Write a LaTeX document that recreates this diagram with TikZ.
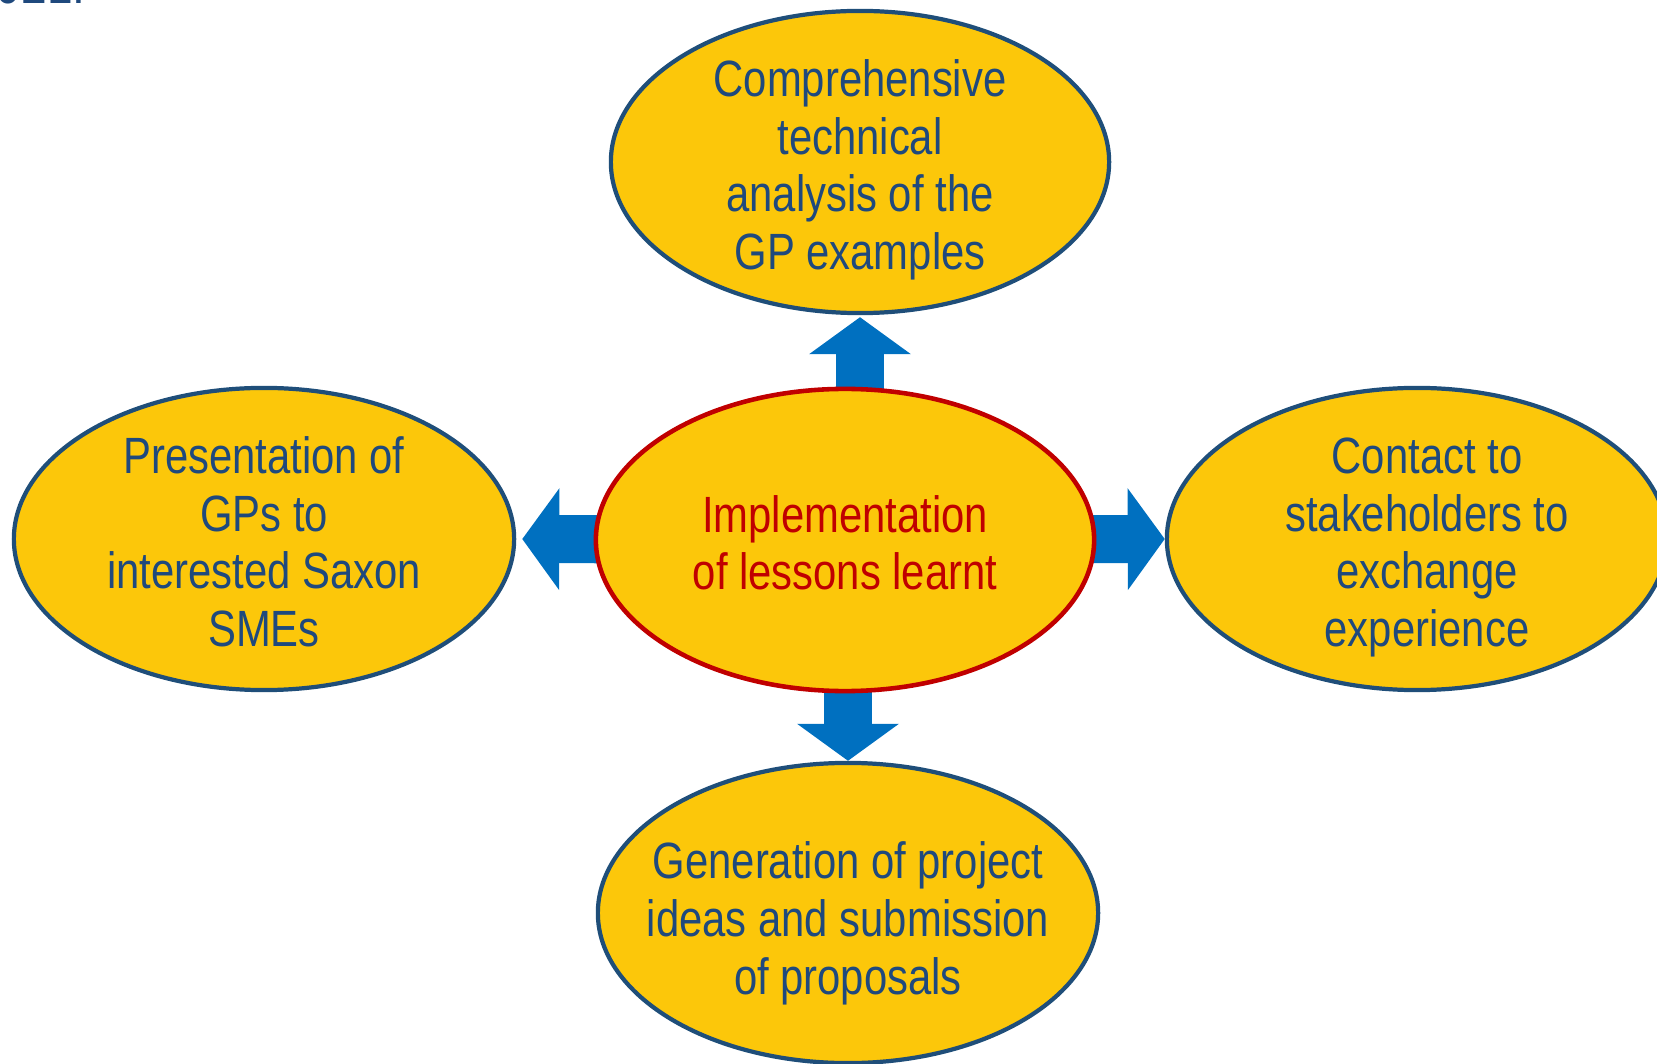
\documentclass[tikz,border=0pt]{standalone}
\usepackage{fontspec}
\setmainfont[FakeStretch=0.82]{Liberation Sans}
\usetikzlibrary{shapes.geometric,arrows.meta,backgrounds}
\definecolor{gold}{RGB}{252,199,10}
\definecolor{navy}{RGB}{31,78,121}
\definecolor{txtblue}{RGB}{31,73,125}
\definecolor{flowblue}{RGB}{0,112,192}
\definecolor{darkred}{RGB}{192,0,0}
\newcommand\toprow[1][15pt]{\rule{0pt}{#1}}
\newcommand\nudge{\hspace*{0.2cm}}
\begin{document}
\begin{tikzpicture}[x=0.01cm,y=-0.01cm,line join=round,
 bubble/.style={ellipse,draw=navy,line width=1.2pt,fill=gold,text=txtblue,align=center,
   inner sep=-8pt,minimum width=4.98cm,minimum height=3.02cm,font=\fontsize{14.5}{16.4}\selectfont},
 core/.style={bubble,draw=darkred,line width=1.3pt,text=darkred},
 flow/.style={draw=flowblue,line width=0.48cm,-{Triangle[length=0.37cm,width=1cm]}}]
 \useasboundingbox (0,0) rectangle (1657,1064);
 \clip (0,0) rectangle (1657,1064);
 \node[anchor=base east,text=txtblue,font=\fontsize{16}{18}\selectfont] (yearfrag) at (98,4) {2021.};
 \node[core] (hub) at (845,540) {\toprow[12pt]Implementation\\of lessons learnt};
 \node[bubble] (analysis) at (860,162) {\toprow Comprehensive\\technical\\analysis of the\\GP examples};
 \node[bubble,minimum width=5cm] (presentation) at (264,539) {\toprow[12pt]Presentation of\\GPs to\\interested Saxon\\SMEs};
 \node[bubble,minimum width=5cm] (contact) at (1417,539) {\toprow\nudge Contact to\\\nudge stakeholders to\\\nudge exchange\\\nudge experience};
 \node[bubble,minimum width=5cm,minimum height=3cm] (proposals) at (848,913) {\toprow[16.3pt]Generation of project\\ideas and submission\\of proposals};
 \begin{scope}[on background layer]
 \draw[flow,shorten >=0.02cm] (analysis.south |- hub.center) -- (analysis.south);
 \draw[flow] (proposals.north |- hub.center) -- (proposals.north);
 \draw[flow,shorten >=0.06cm] (hub.center) -- (presentation.east);
 \draw[flow] (hub.center) -- (contact.west);
 \end{scope}
\end{tikzpicture}
\end{document}
